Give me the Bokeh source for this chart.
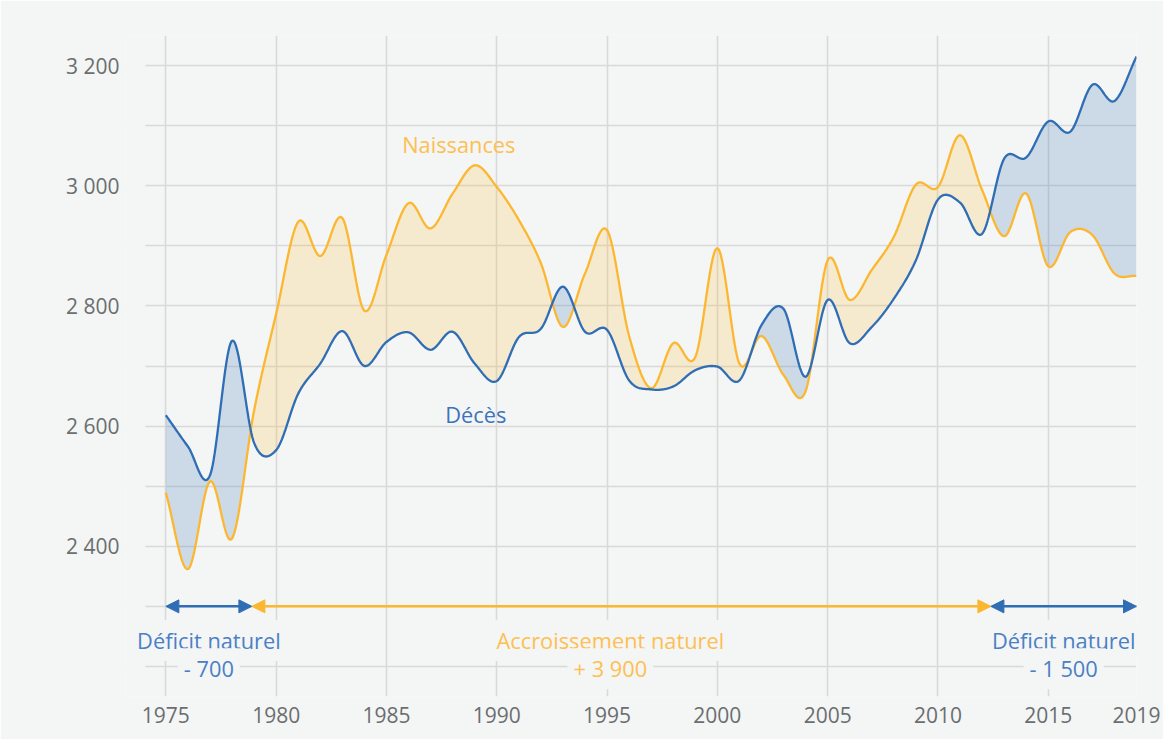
import numpy as np
from bokeh.plotting import figure
from bokeh.models import Range1d, FixedTicker, Label, Arrow, NormalHead, BoxAnnotation
from bokeh.embed import file_html
from bokeh.resources import INLINE

# ---------------- data ----------------
years = list(range(1975, 2020))
naissances = [2489, 2362, 2508, 2413, 2626, 2787, 2940, 2883, 2946, 2792,
              2885, 2971, 2929, 2987, 3034, 2998, 2943, 2871, 2765, 2854,
              2926, 2750, 2663, 2738, 2715, 2896, 2704, 2750, 2685, 2658,
              2876, 2810, 2860, 2915, 3002, 2998, 3084, 2993, 2916, 2987,
              2866, 2923, 2918, 2854, 2850]
deces = [2618, 2566, 2518, 2742, 2572, 2560, 2654, 2704, 2758, 2700,
         2740, 2756, 2727, 2757, 2704, 2675, 2748, 2762, 2832, 2757,
         2760, 2676, 2661, 2666, 2693, 2699, 2676, 2768, 2795, 2682,
         2810, 2738, 2765, 2812, 2876, 2977, 2972, 2920, 3045, 3047,
         3107, 3090, 3168, 3141, 3215]

x_ticks = [1975, 1980, 1985, 1990, 1995, 2000, 2005, 2010, 2015, 2019]
y_ticks = [2200, 2300, 2400, 2500, 2600, 2700, 2800, 2900, 3000, 3100, 3200]
y_tick_labels = ["", "", "2 400", "", "2 600", "", "2 800", "", "3 000", "", "3 200"]

# periods of natural balance (limits = years where the curves cross)
period_limits = [1975, 1978.9, 2012.4, 2019]
period_titles = ["Déficit naturel", "Accroissement naturel", "Déficit naturel"]
period_values = ["- 700", "+ 3 900", "- 1 500"]
period_kinds = ["deficit", "accroissement", "deficit"]

# ---------------- style ----------------
BG = "#f4f5f5"
BLUE = "#2f6db5"
YELLOW = "#fcb731"
BLUE_TXT = "#4a80c5"
YELLOW_TXT = "#fdbf52"
GRID = "#d9d9d9"
TICK_TXT = "#6a6e70"
FONT = "Open Sans"
FS = "21.8px"
TICK_FS = "21px"


def smooth(x, y, n=24):
    """Catmull-Rom rendering of the yearly series (curve through every point)."""
    x = np.asarray(x, float)
    y = np.asarray(y, float)
    m = np.empty_like(y)
    m[1:-1] = (y[2:] - y[:-2]) / 2.0
    m[0] = y[1] - y[0]
    m[-1] = y[-1] - y[-2]
    xs, ys = [], []
    t = np.linspace(0, 1, n, endpoint=False)
    h00 = 2 * t**3 - 3 * t**2 + 1
    h10 = t**3 - 2 * t**2 + t
    h01 = -2 * t**3 + 3 * t**2
    h11 = t**3 - t**2
    for i in range(len(x) - 1):
        xs.append(x[i] + t * (x[i + 1] - x[i]))
        ys.append(h00 * y[i] + h10 * m[i] + h01 * y[i + 1] + h11 * m[i + 1])
    xs.append([x[-1]])
    ys.append([y[-1]])
    return np.concatenate(xs), np.concatenate(ys)


xs, ys_n = smooth(years, naissances)
_, ys_d = smooth(years, deces)
top = np.maximum(ys_n, ys_d)

X0 = 1973.17   # frame starts a little left so labels are not clipped
GRID_START = 1974.07  # horizontal grid lines start here

p = figure(width=1163, height=739,
           x_range=Range1d(X0, 2019.0), y_range=Range1d(2150, 3250),
           output_backend="svg", toolbar_location=None,
           min_border_left=125, min_border_right=27,
           min_border_top=35, min_border_bottom=43,
           background_fill_color=BG, border_fill_color=BG,
           outline_line_color=None)

# axes
p.xaxis.ticker = FixedTicker(ticks=x_ticks)
p.yaxis.ticker = FixedTicker(ticks=y_ticks)
p.yaxis.major_label_overrides = {t: lab for t, lab in zip(y_ticks, y_tick_labels)}
for ax in (p.xaxis[0], p.yaxis[0]):
    ax.axis_line_color = None
    ax.major_tick_line_color = None
    ax.minor_tick_line_color = None
    ax.major_tick_out = 0
    ax.major_tick_in = 0
    ax.minor_tick_out = 0
    ax.major_label_text_font = FONT
    ax.major_label_text_font_size = TICK_FS
    ax.major_label_text_color = TICK_TXT
p.yaxis.major_label_standoff = 6
p.xaxis.major_label_standoff = 10

p.xgrid.grid_line_color = GRID
p.ygrid.grid_line_color = GRID
p.xgrid.grid_line_width = 1.6
p.ygrid.grid_line_width = 1.6

# mask the beginning of the horizontal grid lines
p.add_layout(BoxAnnotation(left=X0 - 0.01, right=GRID_START, bottom=2150, top=3250,
                           fill_color=BG, fill_alpha=1.0, line_color=None,
                           level="underlay"))

# fills between the two curves
p.varea(x=xs, y1=ys_d, y2=top, fill_color=YELLOW, fill_alpha=0.2)
p.varea(x=xs, y1=ys_n, y2=top, fill_color=BLUE, fill_alpha=0.2)

# lines
p.line(xs, ys_n, line_color=YELLOW, line_width=2.3)
p.line(xs, ys_d, line_color=BLUE, line_width=2.3)

# series labels
p.add_layout(Label(x=1988.28, y=3069, text="Naissances", text_align="center",
                   text_baseline="alphabetic", text_font=FONT,
                   text_font_size=FS, text_color=YELLOW_TXT))
p.add_layout(Label(x=1989.05, y=2619, text="Décès", text_align="center",
                   text_baseline="alphabetic", text_font=FONT,
                   text_font_size=FS, text_color="#3d73bb"))

# period arrows and labels
label_centers = [1976.95, 1995.15, 2015.7]
for i, kind in enumerate(period_kinds):
    col = BLUE if kind == "deficit" else YELLOW
    tcol = BLUE_TXT if kind == "deficit" else YELLOW_TXT
    x0, x1 = period_limits[i], period_limits[i + 1]
    p.add_layout(Arrow(x_start=x0, y_start=2300, x_end=x1, y_end=2300,
                       line_color=col, line_width=2.5,
                       start=NormalHead(size=13, fill_color=col, line_color=col, line_width=1),
                       end=NormalHead(size=13, fill_color=col, line_color=col, line_width=1)))
    for txt, yy in ((period_titles[i], 2243), (period_values[i], 2196)):
        p.add_layout(Label(x=label_centers[i], y=yy, text=txt, text_align="center",
                           text_baseline="alphabetic", text_font=FONT,
                           text_font_size=FS, text_color=tcol,
                           background_fill_color=BG, background_fill_alpha=1.0,
                           padding=6))

open("out.html", "w").write(file_html(p, INLINE))
